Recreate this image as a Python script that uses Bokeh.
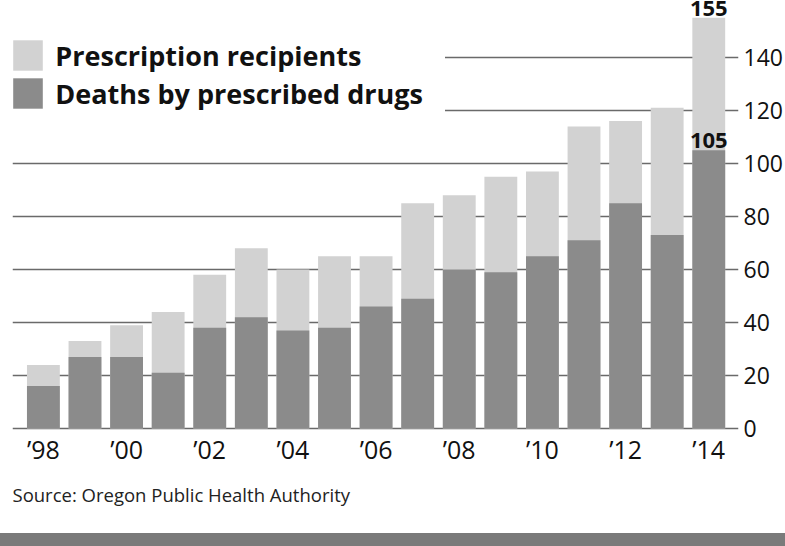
from bokeh.plotting import figure
from bokeh.models import ColumnDataSource, FixedTicker, Legend, LegendItem, LinearAxis, Title, Div, Range1d
from bokeh.layouts import column
from bokeh.core.properties import value
from bokeh.embed import file_html
from bokeh.resources import INLINE

# ---- data ----
years = [1998, 1999, 2000, 2001, 2002, 2003, 2004, 2005, 2006, 2007, 2008, 2009, 2010, 2011, 2012, 2013, 2014]
recipients = [24, 33, 39, 44, 58, 68, 60, 65, 65, 85, 88, 95, 97, 114, 116, 121, 155]
deaths = [16, 27, 27, 21, 38, 42, 37, 38, 46, 49, 60, 59, 65, 71, 85, 73, 105]
x_ticks = [1998, 2000, 2002, 2004, 2006, 2008, 2010, 2012, 2014]
x_tick_labels = ["\u201998", "\u201900", "\u201902", "\u201904", "\u201906", "\u201908", "\u201910", "\u201912", "\u201914"]
y_ticks = [0, 20, 40, 60, 80, 100, 120, 140]

LIGHT = "#d2d2d2"
DARK = "#8b8b8b"
GRID = "#6a6a6a"
FONT = "Open Sans"

src = ColumnDataSource(dict(year=years, rec=recipients, dea=deaths))

p = figure(width=785, height=533, output_backend="svg", toolbar_location=None,
           x_range=Range1d(1997.257, 2014.715), y_range=Range1d(-0.75, 161.5),
           min_border_left=12, min_border_right=45, min_border_top=0, min_border_bottom=103,
           x_axis_location=None, y_axis_location=None, outline_line_color=None)

r_rec = p.vbar(x="year", top="rec", bottom=0, width=0.79, source=src, fill_color=LIGHT, line_color=None)
r_dea = p.vbar(x="year", top="dea", bottom=0, width=0.79, source=src, fill_color=DARK, line_color=None)

# value labels for last year
p.text(x=[years[-1]], y=[deaths[-1]], text=[str(deaths[-1])], text_align="center", text_baseline="bottom",
       y_offset=-2, text_font=value(FONT), text_font_style="bold", text_font_size="22px", text_color="#111111")
p.text(x=[years[-1]], y=[recipients[-1]], text=[str(recipients[-1])], text_align="center", text_baseline="bottom",
       y_offset=-2, text_font=value(FONT), text_font_style="bold", text_font_size="22px", text_color="#111111")

# axes
yax = LinearAxis(ticker=FixedTicker(ticks=y_ticks), axis_line_color=None, major_tick_line_color=None,
                 minor_tick_line_color=None, major_tick_out=0, major_tick_in=0, major_label_standoff=5,
                 major_label_text_font=FONT, major_label_text_font_size="23px", major_label_text_color="#111111")
p.add_layout(yax, "right")
xax = LinearAxis(ticker=FixedTicker(ticks=x_ticks),
                 major_label_overrides={t: l for t, l in zip(x_ticks, x_tick_labels)},
                 axis_line_color=None, major_tick_line_color=None, minor_tick_line_color=None,
                 major_tick_out=0, major_tick_in=0, major_label_standoff=1,
                 major_label_text_font=FONT, major_label_text_font_size="25px", major_label_text_color="#111111")
p.add_layout(xax, "below")

p.xgrid.visible = False
p.ygrid.ticker = FixedTicker(ticks=y_ticks)
p.ygrid.grid_line_color = GRID
p.ygrid.grid_line_width = 1.4
p.ygrid.grid_line_alpha = 1.0

legend = Legend(items=[LegendItem(label="Prescription recipients", renderers=[r_rec]),
                       LegendItem(label="Deaths by prescribed drugs", renderers=[r_dea])],
                location=(-2.7, 318), glyph_width=37, glyph_height=38, spacing=0, padding=0, margin=0,
                label_standoff=9, label_width=390,
                label_text_font=FONT, label_text_font_style="bold", label_text_font_size="27px",
                label_text_color="#111111", border_line_color=None,
                background_fill_color="white", background_fill_alpha=1.0)
p.add_layout(legend, "center")

p.add_layout(Title(text="Source: Oregon Public Health Authority", align="left", text_font=FONT,
                   text_font_style="normal", text_font_size="18.5px", text_color="#222222",
                   standoff=22), "below")

band = Div(text="", width=785, height=13, margin=0, styles={"background-color": "#7a7a7a", "margin": "0"})

layout = column(p, band, spacing=0)
open("out.html", "w").write(file_html(layout, INLINE))
